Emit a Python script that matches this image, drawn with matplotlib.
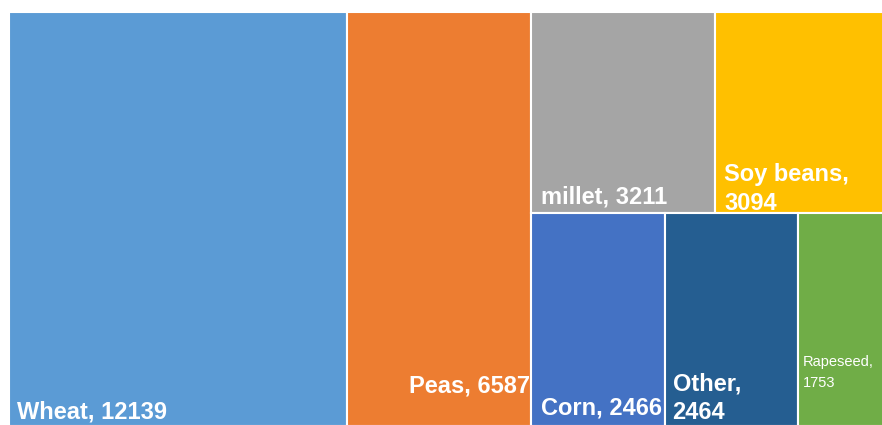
import matplotlib.pyplot as plt
from matplotlib.patches import Rectangle

# crop production, treemap
crops = ['Wheat', 'Peas', 'millet', 'Soy beans', 'Corn', 'Other', 'Rapeseed']
values = [12139, 6587, 3211, 3094, 2466, 2464, 1753]
colors = ['#5B9BD5', '#ED7D31', '#A5A5A5', '#FFC000', '#4472C4', '#255E91', '#70AD47']

# how the labels wrap inside their boxes
label_lines = {
    'Soy beans': ['Soy beans,', '3094'],
    'Other': ['Other,', '2464'],
    'Rapeseed': ['Rapeseed,', '1753'],
}
# label placement: pixel offset from the box bottom-left, one (dx, up) per line
label_pos = {
    'Wheat': [(8, 7)],
    'Peas': [(62, 34)],
    'millet': [(10, 9)],
    'Soy beans': [(9, 32), (9, 3)],
    'Corn': [(10, 12)],
    'Other': [(8, 36), (8, 7)],
    'Rapeseed': [(5, 60), (5, 39)],
}
label_size = {'Rapeseed': 10.5}

plt.rcParams['font.family'] = ['Liberation Sans', 'DejaVu Sans']

fig = plt.figure(figsize=(8.82, 4.25), dpi=100)
ax = fig.add_axes([9 / 882, -1 / 425, 884 / 882, 414 / 425])
ax.set_xlim(0, 1)
ax.set_ylim(1, 0)
ax.axis('off')

total = float(sum(values))

# slice-and-dice: two full-height columns, then the rest in two rows
boxes = {}
x = 0.0
for name, v in zip(crops[:2], values[:2]):
    w = v / total
    boxes[name] = (x, 0.0, w, 1.0)
    x += w

rest_w = 1.0 - x
rest_total = float(sum(values[2:]))
rows = [crops[2:4], crops[4:]]
y = 0.0
for row in rows:
    row_vals = [values[crops.index(n)] for n in row]
    h = sum(row_vals) / rest_total
    xx = x
    for name, v in zip(row, row_vals):
        w = rest_w * v / sum(row_vals)
        boxes[name] = (xx, y, w, h)
        xx += w
    y += h

for name, c in zip(crops, colors):
    bx, by, bw, bh = boxes[name]
    rect = Rectangle((bx, by), bw, bh, facecolor=c, edgecolor='white', linewidth=1.5)
    ax.add_patch(rect)
    v = values[crops.index(name)]
    lines = label_lines.get(name, ['%s, %d' % (name, v)])
    for line, (dx, up) in zip(lines, label_pos[name]):
        t = ax.annotate(line, xy=(bx, by + bh), xycoords='data',
                        xytext=(dx, up), textcoords='offset pixels',
                        ha='left', va='baseline', color='white',
                        fontsize=label_size.get(name, 17),
                        fontweight='normal' if name == 'Rapeseed' else 'bold')
        t.set_clip_path(rect)

plt.savefig('out.png', dpi=100)
